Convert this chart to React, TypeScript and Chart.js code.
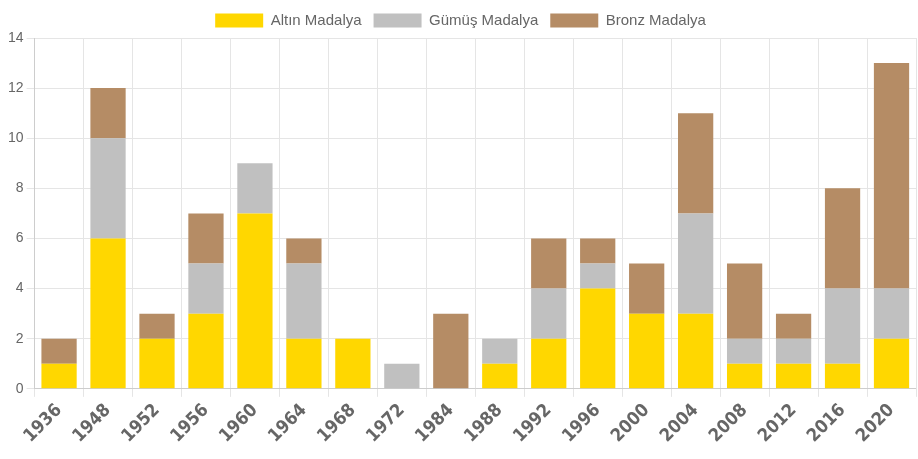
import React, { useEffect, useRef } from "react";
import { Chart, registerables } from "chart.js";

Chart.register(...registerables);

const years = ["1936","1948","1952","1956","1960","1964","1968","1972","1984","1988","1992","1996","2000","2004","2008","2012","2016","2020"];
const gold =   [1, 6, 2, 3, 7, 2, 2, 0, 0, 1, 2, 4, 3, 3, 1, 1, 1, 2];
const silver = [0, 4, 0, 2, 2, 3, 0, 1, 0, 1, 2, 1, 0, 4, 1, 1, 3, 2];
const bronze = [1, 2, 1, 2, 0, 1, 0, 0, 3, 0, 2, 1, 2, 4, 3, 1, 4, 9];
const seriesNames = ["Altın Madalya", "Gümüş Madalya", "Bronz Madalya"];

export default function App() {
  const ref = useRef<HTMLCanvasElement>(null);
  useEffect(() => {
    document.body.style.margin = "0";
    const ctx = ref.current!;
    const chart = new Chart(ctx, {
      type: "bar",
      data: {
        labels: years,
        datasets: [
          { label: seriesNames[0], data: gold, backgroundColor: "#FFD700" },
          { label: seriesNames[1], data: silver, backgroundColor: "#C0C0C0" },
          { label: seriesNames[2], data: bronze, backgroundColor: "#B58C65" },
        ],
      },
      options: {
        responsive: false,
        animation: false,
        maintainAspectRatio: false,
        layout: { padding: { left: 5, right: 2, top: 1, bottom: 9 } },
        plugins: {
          legend: {
            position: "top",
            labels: {
              boxWidth: 48,
              boxHeight: 14,
              padding: 12,
              color: "#666",
              font: { family: "'Liberation Sans', Arial, sans-serif", size: 15 },
            },
          },
          tooltip: { enabled: false },
        },
        scales: {
          x: {
            stacked: true,
            grid: { color: "#e5e5e5" },
            ticks: {
              color: "#666",
              maxRotation: 45,
              minRotation: 45,
              font: { family: "'DejaVu Sans Condensed', 'DejaVu Sans', sans-serif", size: 18, weight: "bold" },
            },
          },
          y: {
            stacked: true,
            min: 0,
            max: 14,
            grid: { color: "#e5e5e5" },
            ticks: {
              stepSize: 2,
              color: "#666",
              font: { family: "'Liberation Sans', Arial, sans-serif", size: 14 },
            },
          },
        },
      },
    });
    return () => chart.destroy();
  }, []);
  return <canvas ref={ref} width={918} height={459} style={{ display: "block" }} />;
}
